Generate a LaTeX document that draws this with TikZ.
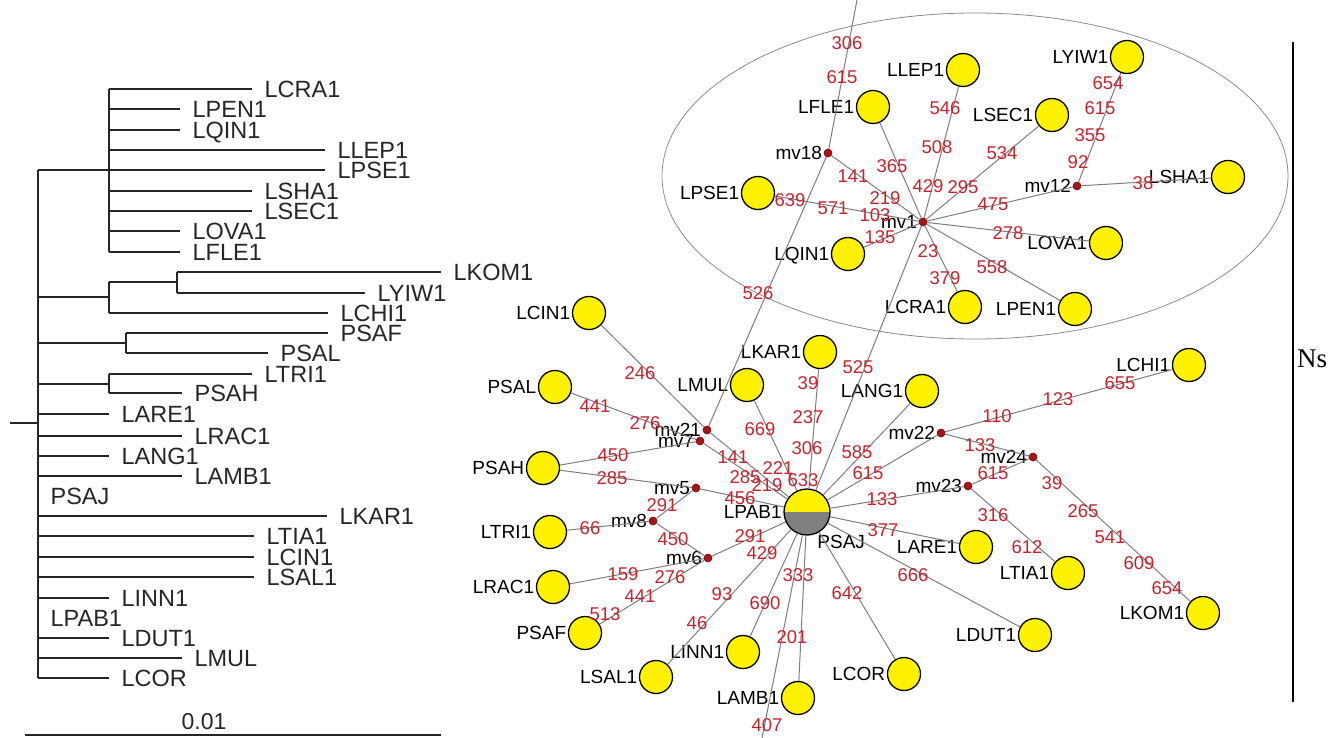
\documentclass[tikz,border=0pt]{standalone}
\usepackage{fontspec}
\setmainfont{Liberation Sans}
\newfontfamily\nsfont{Liberation Serif}
\usepackage{tikz}
\usetikzlibrary{positioning}
\definecolor{numred}{RGB}{200,35,45}
\definecolor{dotred}{RGB}{170,20,20}
\definecolor{linkgray}{RGB}{125,125,125}

\begin{document}
\begin{tikzpicture}[x=1pt,y=-1pt,
    leaf/.style={anchor=west,inner xsep=12pt,inner ysep=0pt,text height=17pt,text depth=0pt,font=\fontsize{23.5}{26}\selectfont},
    branch/.style={line width=1.2pt,black!85},
    hap/.style={circle,draw,fill=yellow,minimum size=33pt,inner sep=0pt,line width=1.3pt},
    mv/.style={circle,draw=dotred!60!black,fill=dotred,minimum size=8pt,inner sep=0pt,line width=0.6pt},
    lab/.style={inner sep=1.5pt,text height=13.6pt,text depth=0pt,font=\fontsize{19}{22}\selectfont},
    num/.style={inner sep=0pt,text=numred,font=\fontsize{18.5}{20}\selectfont},
    link/.style={linkgray,line width=1pt}]
\useasboundingbox (0,0) rectangle (1337,738);

% ---- tree ----
\begin{scope}[branch]
    \draw (10,423) -- (38,423);
    \draw (38,170) -- (38,678);
    % first clade
    \draw (38,170) -- (109,170);
    \draw (109,89) -- (109,252);
    \node[leaf] (tlcra) at (252,89)  {LCRA1};  \draw (109,89)  -- (tlcra);
    \node[leaf] (tlpen) at (180,109) {LPEN1};  \draw (109,109) -- (tlpen);
    \node[leaf] (tlqin) at (180,130) {LQIN1};  \draw (109,130) -- (tlqin);
    \node[leaf] (tllep) at (325,150) {LLEP1};  \draw (109,150) -- (tllep);
    \node[leaf] (tlpse) at (325,170) {LPSE1};  \draw (109,170) -- (tlpse);
    \node[leaf] (tlsha) at (252,191) {LSHA1};  \draw (109,191) -- (tlsha);
    \node[leaf] (tlsec) at (252,211) {LSEC1};  \draw (109,211) -- (tlsec);
    \node[leaf] (tlova) at (180,231) {LOVA1};  \draw (109,231) -- (tlova);
    \node[leaf] (tlfle) at (180,252) {LFLE1};  \draw (109,252) -- (tlfle);
    % second clade
    \draw (38,297) -- (109,297);
    \draw (109,282) -- (109,313);
    \draw (109,282) -- (177,282);
    \draw (177,272) -- (177,293);
    \node[leaf] (tlkom) at (441,272) {LKOM1};  \draw (177,272) -- (tlkom);
    \node[leaf] (tlyiw) at (365,293) {LYIW1};  \draw (177,293) -- (tlyiw);
    \node[leaf] (tlchi) at (328,313) {LCHI1};  \draw (109,313) -- (tlchi);
    % third clade
    \draw (38,343) -- (126,343);
    \draw (126,333) -- (126,353);
    \node[leaf] (tpsaf) at (328,333) {PSAF};   \draw (126,333) -- (tpsaf);
    \node[leaf] (tpsal) at (268,353) {PSAL};   \draw (126,353) -- (tpsal);
    % fourth clade
    \draw (38,384) -- (109,384);
    \draw (109,374) -- (109,393);
    \node[leaf] (tltri) at (252,374) {LTRI1};  \draw (109,374) -- (tltri);
    \node[leaf] (tpsah) at (182,393) {PSAH};   \draw (109,393) -- (tpsah);
    % single leaves
    \node[leaf] (tlare) at (109,414) {LARE1};  \draw (38,414) -- (tlare);
    \node[leaf] (tlrac) at (182,436) {LRAC1};  \draw (38,436) -- (tlrac);
    \node[leaf] (tlang) at (109,456) {LANG1};  \draw (38,456) -- (tlang);
    \node[leaf] (tlamb) at (182,476) {LAMB1};  \draw (38,476) -- (tlamb);
    \node[leaf] (tpsaj) at (38,496)  {PSAJ};
    \node[leaf] (tlkar) at (327,516) {LKAR1};  \draw (38,516) -- (tlkar);
    \node[leaf] (tltia) at (254,536) {LTIA1};  \draw (38,536) -- (tltia);
    \node[leaf] (tlcin) at (254,557) {LCIN1};  \draw (38,557) -- (tlcin);
    \node[leaf] (tlsal) at (254,577) {LSAL1};  \draw (38,577) -- (tlsal);
    \node[leaf] (tlinn) at (109,598) {LINN1};  \draw (38,598) -- (tlinn);
    \node[leaf] (tlpab) at (38,618)  {LPAB1};
    \node[leaf] (tldut) at (109,638) {LDUT1};  \draw (38,638) -- (tldut);
    \node[leaf] (tlmul) at (182,658) {LMUL};   \draw (38,658) -- (tlmul);
    \node[leaf] (tlcor) at (109,678) {LCOR};   \draw (38,678) -- (tlcor);
    % scale
    \draw[line width=1.5pt] (25,735) -- (441,735);
    \node[font=\fontsize{23}{26}\selectfont,inner sep=0pt] (scale) at (204,722) {0.01};
\end{scope}

% ---- network ----
\draw[linkgray!90,line width=0.8pt] (975,176) ellipse [x radius=313pt, y radius=163pt];

\node[hap,label={[lab]left:LFLE1}] (lfle) at (873,107) {};
\node[hap,label={[lab]left:LLEP1}] (llep) at (963,70) {};
\node[hap,label={[lab]left:LYIW1}] (lyiw) at (1127,57) {};
\node[hap,label={[lab]left:LSEC1}] (lsec) at (1052,115) {};
\node[hap,label={[lab]left:LPSE1}] (lpse) at (758,193) {};
\node[hap,label={[lab]left:LSHA1}] (lsha) at (1228,177) {};
\node[hap,label={[lab]left:LQIN1}] (lqin) at (848,254) {};
\node[hap,label={[lab]left:LOVA1}] (lova) at (1106,243) {};
\node[hap,label={[lab]left:LCRA1}] (lcra) at (965,307) {};
\node[hap,label={[lab]left:LPEN1}] (lpen) at (1075,309) {};
\node[hap,label={[lab]left:LCIN1}] (lcin) at (589,313) {};
\node[hap,label={[lab]left:LKAR1}] (lkar) at (820,352) {};
\node[hap,label={[lab]left:LCHI1}] (lchi) at (1189,365) {};
\node[hap,label={[lab]left:LMUL}]  (lmul) at (747,385) {};
\node[hap,label={[lab]left:PSAL}]  (psal) at (555,387) {};
\node[hap,label={[lab]left:LANG1}] (lang) at (922,391) {};
\node[hap,label={[lab]left:PSAH}]  (psah) at (543,468) {};
\node[hap,label={[lab]left:LTRI1}] (ltri) at (550,532) {};
\node[hap,label={[lab]left:LARE1}] (lare) at (976,547) {};
\node[hap,label={[lab]left:LTIA1}] (ltia) at (1068,573) {};
\node[hap,label={[lab]left:LRAC1}] (lrac) at (553,587) {};
\node[hap,label={[lab]left:LKOM1}] (lkom) at (1203,613) {};
\node[hap,label={[lab]left:PSAF}]  (psaf) at (585,633) {};
\node[hap,label={[lab]left:LDUT1}] (ldut) at (1035,635) {};
\node[hap,label={[lab]left:LINN1}] (linn) at (743,652) {};
\node[hap,label={[lab]left:LCOR}]  (lcor) at (904,674) {};
\node[hap,label={[lab]left:LSAL1}] (lsal) at (656,677) {};
\node[hap,label={[lab]left:LAMB1}] (lamb) at (798,698) {};

\node[hap,minimum size=46pt,
      path picture={\fill[gray] (path picture bounding box.west) rectangle (path picture bounding box.south east);},
      label={[lab]left:LPAB1},label={[lab,xshift=-8pt,yshift=-4pt]below right:PSAJ}] (pab) at (807,512) {};

\node[mv,label={[lab]left:mv18}] (mv18) at (828,153) {};
\node[mv,label={[lab]left:mv1}]  (mv1)  at (923,222) {};
\node[mv,label={[lab]left:mv12}] (mv12) at (1077,186) {};
\node[mv,label={[lab]left:mv21}] (mv21) at (707,430) {};
\node[mv,label={[lab]left:mv7}]  (mv7)  at (700,441) {};
\node[mv,label={[lab]left:mv5}]  (mv5)  at (696,488) {};
\node[mv,label={[lab]left:mv8}]  (mv8)  at (653,521) {};
\node[mv,label={[lab]left:mv6}]  (mv6)  at (708,558) {};
\node[mv,label={[lab]left:mv22}] (mv22) at (941,433) {};
\node[mv,label={[lab]left:mv24}] (mv24) at (1033,457) {};
\node[mv,label={[lab]left:mv23}] (mv23) at (968,486) {};

\coordinate (topend) at (857,0);
\coordinate (botend) at (762,738);

\begin{scope}[link]
    \draw (mv18) -- (topend);
    \draw (mv18) -- (mv1);
    \draw (mv18) -- (mv21);
    \draw (mv1) -- (lfle);
    \draw (mv1) -- (llep);
    \draw (mv1) -- (lsec);
    \draw (mv1) -- (mv12);
    \draw (mv1) -- (lova);
    \draw (mv1) -- (lpen);
    \draw (mv1) -- (lcra);
    \draw (mv1) -- (lqin);
    \draw (mv1) -- (lpse);
    \draw (mv1) -- (pab);
    \draw (mv12) -- (lsha);
    \draw (mv12) -- (lyiw);
    \draw (mv21) -- (lcin);
    \draw (mv21) -- (pab);
    \draw (mv7) -- (psal);
    \draw (mv7) -- (psah);
    \draw (mv7) -- (pab);
    \draw (mv5) -- (psah);
    \draw (mv5) -- (mv8);
    \draw (mv5) -- (pab);
    \draw (mv8) -- (ltri);
    \draw (mv8) -- (mv6);
    \draw (mv6) -- (pab);
    \draw (mv6) -- (lrac);
    \draw (mv6) -- (psaf);
    \draw (pab) -- (lsal);
    \draw (pab) -- (linn);
    \draw (pab) -- (lamb);
    \draw (pab) -- (botend);
    \draw (pab) -- (lcor);
    \draw (pab) -- (ldut);
    \draw (pab) -- (lare);
    \draw (pab) -- (mv23);
    \draw (pab) -- (mv22);
    \draw (pab) -- (lang);
    \draw (pab) -- (lkar);
    \draw (pab) -- (lmul);
    \draw (mv23) -- (mv24);
    \draw (mv23) -- (ltia);
    \draw (mv24) -- (lkom);
    \draw (mv22) -- (mv24);
    \draw (mv22) -- (lchi);
\end{scope}

% mutation counts
\foreach \x/\y/\t [count=\i] in {
    847/43/306, 842/77/615, 758/293/526, 853/176/141, 885/198/219, 892/166/365,
    945/108/546, 937/147/508, 928/186/429, 1002/153/534, 963/187/295, 993/204/475,
    1143/183/38, 1108/83/654, 1100/108/615, 1090/135/355, 1078/162/92,
    1008/233/278, 992/267/558, 928/251/23, 945/278/379, 880/237/135,
    790/200/639, 833/208/571, 875/215/103, 858/367/525,
    640/373/246, 595/406/441, 645/423/276, 613/455/450, 612/478/285,
    733/457/141, 745/477/285, 767/485/219, 760/429/669, 778/468/221, 740/498/456,
    808/383/39, 808/417/237, 807/448/306, 803/480/633,
    857/452/585, 868/473/615, 882/499/133, 883/530/377, 913/575/666, 847/593/642,
    798/575/333, 767/725/407, 792/637/201, 765/603/690,
    762/553/429, 722/594/93, 697/623/46, 750/536/291,
    662/505/291, 590/528/66, 673/539/450, 623/574/159,
    670/577/276, 640/596/441, 605/614/513,
    997/416/110, 1058/399/123, 1120/383/655, 980/445/133, 993/473/615,
    993/515/316, 1027/547/612,
    1052/483/39, 1083/511/265, 1110/537/541, 1139/563/609, 1167/588/654}
    \node[num] (w\i) at (\x,\y) {\t};

% right bar
\draw[line width=2pt] (1293,42) -- (1293,702);
\node[anchor=west,inner sep=2pt,font=\nsfont\fontsize{27}{30}\selectfont] (ns) at (1295,359) {Ns};
\end{tikzpicture}
\end{document}
